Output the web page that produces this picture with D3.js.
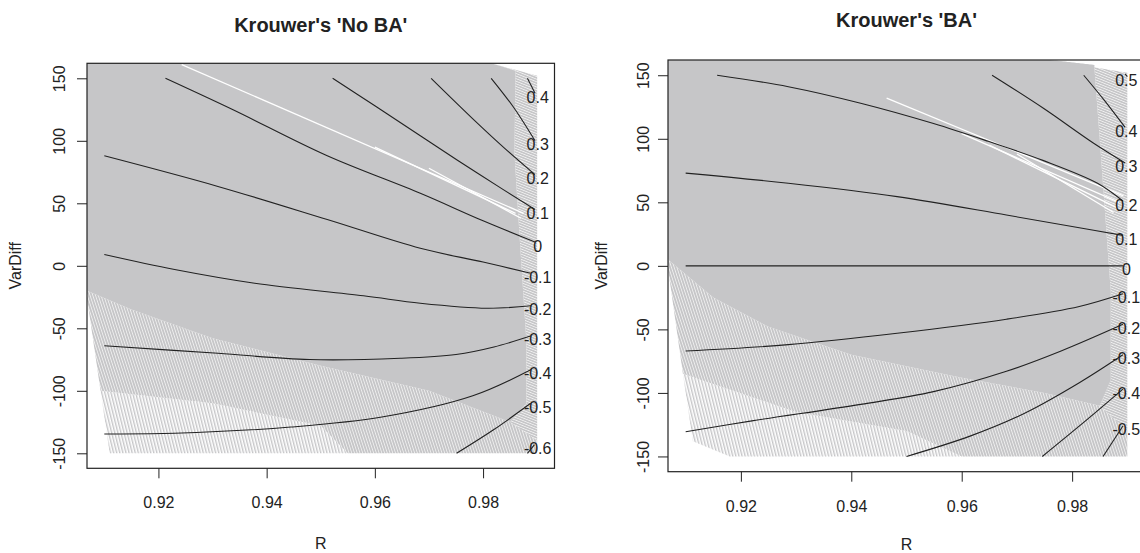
<!DOCTYPE html>
<html>
<head>
<meta charset="utf-8">
<script src="https://cdn.jsdelivr.net/npm/d3@7"></script>
<style>
  body { margin: 0; background: #fff; }
  svg text { font-family: 'Liberation Sans', Arial, sans-serif; fill: #222; }
</style>
</head>
<body>
<svg id="chart" width="1140" height="553"></svg>
<script>
// shared axes
const xTicks = [0.92, 0.94, 0.96, 0.98];
const yTicks = [-150, -100, -50, 0, 50, 100, 150];
const xRange = [0.91, 0.99];
const yRange = [-150, 150];

// Krouwer's 'No BA' : contour levels and their lines [R, VarDiff]
const noBaLevels = [0.4, 0.3, 0.2, 0.1, 0, -0.1, -0.2, -0.3, -0.4, -0.5, -0.6];
const noBaContours = [
  [[0.9882, 150], [0.9896, 138]],
  [[0.9815, 150], [0.9856, 127], [0.9896, 100]],
  [[0.9704, 150], [0.9785, 116], [0.9840, 94], [0.9896, 73]],
  [[0.9522, 150], [0.9600, 128], [0.9684, 104], [0.9790, 74], [0.9896, 45]],
  [[0.9213, 150], [0.9337, 125], [0.9512, 88], [0.9684, 58], [0.9800, 36], [0.9896, 19]],
  [[0.9100, 88], [0.9310, 63.5], [0.9512, 37], [0.9684, 14], [0.9800, 3], [0.9888, -6]],
  [[0.9100, 9], [0.9230, -3], [0.9378, -14], [0.9579, -24], [0.9684, -30], [0.9807, -34], [0.9889, -32]],
  [[0.9100, -64], [0.9310, -70], [0.9479, -75], [0.9647, -74], [0.9750, -71], [0.9820, -65], [0.9889, -56]],
  [[0.9100, -134.5], [0.9230, -134], [0.9445, -129], [0.9613, -121], [0.9781, -104], [0.9889, -83]],
  [[0.9751, -150], [0.9820, -131], [0.9888, -110]],
  [[0.9882, -150], [0.9895, -143]]
];
// grey cloud of simulation lines: solid core, streaky lower part, thin fringe, fanned right edge
const noBaCore = [[0.9068, 162], [0.9815, 162], [0.9860, 156], [0.9858, 90], [0.9868, 20], [0.9880, -60],
  [0.9880, -110], [0.9850, -125], [0.9700, -100], [0.9500, -80], [0.9300, -58], [0.9150, -35], [0.9068, -20]];
const noBaStreak = [[0.9068, -20], [0.9150, -35], [0.9300, -58], [0.9500, -80], [0.9700, -100], [0.9850, -125],
  [0.9900, -140], [0.9900, -150], [0.9550, -150], [0.9500, -128], [0.9300, -110], [0.9093, -100], [0.9068, -26]];
const noBaThin = [[0.9093, -100], [0.9300, -110], [0.9500, -128], [0.9550, -150], [0.9110, -150]];
const noBaFan = [[0.9815, 162], [0.9900, 152], [0.9900, -140], [0.9850, -125], [0.9880, -110], [0.9880, -60],
  [0.9868, 20], [0.9858, 90], [0.9860, 156]];
const noBaGaps = [
  [[0.9243, 161], [0.9875, 42]],
  [[0.9600, 95], [0.9860, 42]],
  [[0.9700, 78], [0.9870, 38]]
];

// Krouwer's 'BA'
const baLevels = [0.5, 0.4, 0.3, 0.2, 0.1, 0, -0.1, -0.2, -0.3, -0.4, -0.5];
const baContours = [
  [[0.9896, 151], [0.9900, 149]],
  [[0.9821, 150], [0.9857, 131], [0.9896, 109]],
  [[0.9655, 150], [0.9748, 124], [0.9839, 96.5], [0.9896, 81]],
  [[0.9157, 150], [0.9286, 141], [0.9417, 128], [0.9549, 112], [0.9648, 98], [0.9747, 83], [0.9846, 65], [0.9892, 51]],
  [[0.9100, 73], [0.9286, 65], [0.9483, 54.5], [0.9681, 40], [0.9813, 30], [0.9892, 24]],
  [[0.9100, 0], [0.9892, 0]],
  [[0.9100, -67], [0.9286, -62], [0.9483, -53], [0.9681, -42], [0.9813, -32], [0.9892, -22]],
  [[0.9100, -130.5], [0.9220, -122], [0.9417, -109], [0.9549, -99], [0.9681, -83], [0.9780, -67], [0.9892, -46]],
  [[0.9500, -150], [0.9615, -134], [0.9714, -116], [0.9813, -92], [0.9892, -70]],
  [[0.9746, -150], [0.9816, -125], [0.9892, -97]],
  [[0.9856, -150], [0.9892, -126]]
];
const baCore = [[0.9068, 162], [0.9760, 162], [0.9840, 158], [0.9850, 100], [0.9860, 40], [0.9870, -20],
  [0.9870, -90], [0.9850, -110], [0.9750, -100], [0.9600, -88], [0.9400, -70], [0.9250, -48], [0.9150, -25], [0.9068, 5]];
const baStreak = [[0.9068, 5], [0.9150, -25], [0.9250, -48], [0.9400, -70], [0.9600, -88], [0.9750, -100],
  [0.9850, -110], [0.9900, -130], [0.9900, -150], [0.9600, -150], [0.9500, -130], [0.9300, -115], [0.9095, -85], [0.9068, -2]];
const baThin = [[0.9095, -85], [0.9300, -115], [0.9500, -130], [0.9600, -150], [0.9180, -150], [0.9113, -138]];
const baFan = [[0.9760, 162], [0.9900, 152], [0.9900, -130], [0.9850, -110], [0.9870, -90], [0.9870, -20],
  [0.9860, 40], [0.9850, 100], [0.9840, 158]];
const baGaps = [
  [[0.9464, 132], [0.9893, 55]],
  [[0.9600, 104], [0.9885, 50]],
  [[0.9650, 95], [0.9880, 46]],
  [[0.9700, 88], [0.9875, 42]]
];

const GREY = '#c6c6c8';
const INK = '#222';

const svg = d3.select('#chart');
const defs = svg.append('defs');

// strand textures for the thinned-out parts of the cloud
const strands = (id, w, h, bw, bh, angle) => defs.append('pattern')
  .attr('id', id)
  .attr('patternUnits', 'userSpaceOnUse')
  .attr('width', w).attr('height', h)
  .attr('patternTransform', `rotate(${angle})`)
  .append('rect').attr('width', bw).attr('height', bh).attr('fill', GREY);
strands('steep', 2.6, 10, 2.0, 10, -18);
strands('thin', 3, 10, 1.4, 10, -14);
strands('shallow', 10, 2.4, 10, 1.8, 22);

const pad = ([a, b]) => [a - (b - a) * 0.04, b + (b - a) * 0.04];

const panels = [
  { key: 'noba', title: "Krouwer's 'No BA'", box: [87, 554.5, 63.3, 468.3], titleY: 25,
    yLabX: 15, yTickOff: 28, xTickY: 34, xLabY: 75, labDx: 0.5,
    levels: noBaLevels, contours: noBaContours, core: noBaCore, streak: noBaStreak, thin: noBaThin,
    fan: noBaFan, gaps: noBaGaps },
  { key: 'ba', title: "Krouwer's 'BA'", box: [668, 1145, 60, 471.7], titleY: 20,
    yLabX: 601, yTickOff: 25, xTickY: 35, xLabY: 72.5, labDx: -1,
    levels: baLevels, contours: baContours, core: baCore, streak: baStreak, thin: baThin,
    fan: baFan, gaps: baGaps }
];

panels.forEach(p => {
  const [x0, x1, y0, y1] = p.box;
  const x = d3.scaleLinear().domain(pad(xRange)).range([x0, x1]);
  const y = d3.scaleLinear().domain(pad(yRange)).range([y1, y0]);
  const line = d3.line().x(d => x(d[0])).y(d => y(d[1]));
  const closed = d3.line().x(d => x(d[0])).y(d => y(d[1])).curve(d3.curveLinearClosed);
  const smooth = d3.line().x(d => x(d[0])).y(d => y(d[1])).curve(d3.curveCatmullRom);

  defs.append('clipPath').attr('id', `clip-${p.key}`)
    .append('rect').attr('x', x0).attr('y', y0).attr('width', x1 - x0).attr('height', y1 - y0);

  const g = svg.append('g');
  const plot = g.append('g').attr('clip-path', `url(#clip-${p.key})`);

  plot.append('path').datum(p.thin).attr('d', closed).attr('fill', 'url(#thin)');
  plot.append('path').datum(p.streak).attr('d', closed).attr('fill', 'url(#steep)');
  plot.append('path').datum(p.fan).attr('d', closed).attr('fill', 'url(#shallow)');
  plot.append('path').datum(p.core).attr('d', closed).attr('fill', GREY);
  plot.selectAll('.gap').data(p.gaps).enter().append('path')
    .attr('class', 'gap').attr('d', line)
    .attr('fill', 'none').attr('stroke', '#fff').attr('stroke-width', 1.3);

  plot.selectAll('.contour').data(p.contours).enter().append('path')
    .attr('class', 'contour').attr('d', smooth)
    .attr('fill', 'none').attr('stroke', INK).attr('stroke-width', 1.1);

  plot.selectAll('.clab').data(p.contours).enter().append('text')
    .attr('class', 'clab')
    .attr('x', x(xRange[1]) + p.labDx)
    .attr('y', d => y(d[d.length - 1][1]) + 4)
    .attr('text-anchor', 'middle')
    .attr('dominant-baseline', 'central')
    .attr('font-size', 16)
    .text((d, i) => String(p.levels[i]));

  // axes, drawn the way base R draws them
  const xAxis = g.append('g')
    .attr('transform', `translate(0,${y1})`)
    .call(d3.axisBottom(x).tickValues(xTicks).tickFormat(d3.format('.2f')).tickSize(10).tickSizeOuter(0))
    .attr('font-size', null).attr('font-family', null);
  xAxis.select('.domain').remove();
  xAxis.selectAll('line').attr('stroke', INK);
  xAxis.selectAll('text')
    .attr('y', p.xTickY).attr('dy', null)
    .attr('dominant-baseline', 'central')
    .attr('font-size', 16).attr('fill', INK);

  const yAxis = g.append('g')
    .attr('transform', `translate(${x0},0)`)
    .call(d3.axisLeft(y).tickValues(yTicks).tickFormat(d => String(d)).tickSize(10).tickSizeOuter(0))
    .attr('font-size', null).attr('font-family', null);
  yAxis.select('.domain').remove();
  yAxis.selectAll('line').attr('stroke', INK);
  yAxis.selectAll('text')
    .attr('transform', 'rotate(-90)')
    .attr('x', 0).attr('y', -p.yTickOff).attr('dy', null)
    .attr('text-anchor', 'middle')
    .attr('dominant-baseline', 'central')
    .attr('font-size', 16).attr('fill', INK);

  g.append('rect')
    .attr('x', x0).attr('y', y0).attr('width', x1 - x0).attr('height', y1 - y0)
    .attr('fill', 'none').attr('stroke', INK).attr('stroke-width', 1.2);

  g.append('text')
    .attr('x', (x0 + x1) / 2).attr('y', p.titleY)
    .attr('text-anchor', 'middle').attr('dominant-baseline', 'central')
    .attr('font-size', 20).attr('font-weight', 'bold')
    .text(p.title);

  g.append('text')
    .attr('x', (x0 + x1) / 2).attr('y', y1 + p.xLabY)
    .attr('text-anchor', 'middle').attr('dominant-baseline', 'central')
    .attr('font-size', 16)
    .text('R');

  g.append('text')
    .attr('transform', `translate(${p.yLabX},${(y0 + y1) / 2}) rotate(-90)`)
    .attr('text-anchor', 'middle').attr('dominant-baseline', 'central')
    .attr('font-size', 16)
    .text('VarDiff');
});
</script>
</body>
</html>
